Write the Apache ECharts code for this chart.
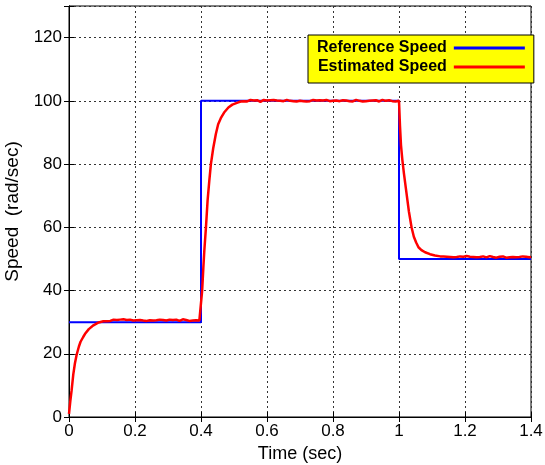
<!DOCTYPE html>
<html>
<head>
<meta charset="utf-8">
<script src="https://cdn.jsdelivr.net/npm/echarts@6/dist/echarts.min.js"></script>
<style>
html,body{margin:0;padding:0;background:#fff;}
#chart{width:545px;height:465px;}
</style>
</head>
<body>
<div id="chart"></div>
<script>
// ---- data ----
const seriesNames = ['Reference Speed', 'Estimated Speed'];
const xTicks = [0, 0.2, 0.4, 0.6, 0.8, 1, 1.2, 1.4];
const yTicks = [0, 20, 40, 60, 80, 100, 120];

const refTime  = [0, 0.4, 0.4, 1.0, 1.0, 1.4];
const refSpeed = [30, 30, 100, 100, 50, 50];

const estTime = [
  0, 0.004, 0.008, 0.013, 0.018, 0.023, 0.03, 0.035, 0.043, 0.05, 0.06, 0.074, 0.09, 0.104,
  0.11, 0.115, 0.12, 0.125, 0.13, 0.135, 0.14, 0.145, 0.15, 0.155, 0.16, 0.165, 0.17, 0.175, 0.18, 0.185,
  0.19, 0.195, 0.2, 0.205, 0.21, 0.215, 0.22, 0.225, 0.23, 0.235, 0.24, 0.245, 0.25, 0.255, 0.26, 0.265,
  0.27, 0.275, 0.28, 0.285, 0.29, 0.295, 0.3, 0.305, 0.31, 0.315, 0.32, 0.325, 0.33, 0.335, 0.34, 0.345,
  0.35, 0.355, 0.36, 0.365, 0.37, 0.375, 0.38, 0.385, 0.39, 0.395, 0.4,
  0.4035, 0.407, 0.41, 0.415, 0.42, 0.425, 0.43, 0.437, 0.445, 0.452, 0.46, 0.47, 0.483, 0.495, 0.513,
  0.52, 0.525, 0.53, 0.535, 0.54, 0.545, 0.55, 0.555, 0.56, 0.565, 0.57, 0.575, 0.58, 0.585, 0.59, 0.595,
  0.6, 0.605, 0.61, 0.615, 0.62, 0.625, 0.63, 0.635, 0.64, 0.645, 0.65, 0.655, 0.66, 0.665, 0.67, 0.675,
  0.68, 0.685, 0.69, 0.695, 0.7, 0.705, 0.71, 0.715, 0.72, 0.725, 0.73, 0.735, 0.74, 0.745, 0.75, 0.755,
  0.76, 0.765, 0.77, 0.775, 0.78, 0.785, 0.79, 0.795, 0.8, 0.805, 0.81, 0.815, 0.82, 0.825, 0.83, 0.835,
  0.84, 0.845, 0.85, 0.855, 0.86, 0.865, 0.87, 0.875, 0.88, 0.885, 0.89, 0.895, 0.9, 0.905, 0.91, 0.915,
  0.92, 0.925, 0.93, 0.935, 0.94, 0.945, 0.95, 0.955, 0.96, 0.965, 0.97, 0.975, 0.98, 0.985, 0.99, 0.995, 1.0,
  1.003, 1.006, 1.01, 1.015, 1.023, 1.03, 1.038, 1.045, 1.052, 1.059, 1.068, 1.079, 1.094, 1.109, 1.125,
  1.13, 1.135, 1.14, 1.145, 1.15, 1.155, 1.16, 1.165, 1.17, 1.175, 1.18, 1.185, 1.19, 1.195, 1.2, 1.205,
  1.21, 1.215, 1.22, 1.225, 1.23, 1.235, 1.24, 1.245, 1.25, 1.255, 1.26, 1.265, 1.27, 1.275, 1.28, 1.285,
  1.29, 1.295, 1.3, 1.305, 1.31, 1.315, 1.32, 1.325, 1.33, 1.335, 1.34, 1.345, 1.35, 1.355, 1.36, 1.365,
  1.37, 1.375, 1.38, 1.385, 1.39, 1.395, 1.4
];
const estSpeed = [
  1, 5, 8.5, 13.5, 17, 19.6, 22.3, 23.8, 25.3, 26.5, 27.8, 29, 29.9, 30.3,
  30.5, 30.3, 30.7, 30.4, 30.6, 30.8, 30.5, 30.7, 30.4, 30.8, 30.6, 30.9, 30.5, 30.7, 30.4, 30.8,
  30.6, 30.5, 30.9, 30.6, 30.4, 30.7, 30.8, 30.5, 30.7, 30.4, 30.8, 30.6, 30.9, 30.5, 30.7, 30.6,
  30.4, 30.8, 30.5, 30.7, 30.9, 30.5, 30.6, 30.8, 30.4, 30.7, 30.5, 30.8, 30.6, 30.4, 30.7, 30.9,
  30.5, 30.7, 30.6, 30.4, 30.8, 30.5, 30.7, 30.6, 30.8, 30.5, 30.7,
  40, 47, 52.5, 60, 68.5, 74.5, 80, 85, 89.5, 92.6, 94.5, 96.3, 97.9, 98.8, 99.5,
  99.8, 100.1, 99.9, 100.2, 99.8, 100.0, 100.3, 99.9, 100.1, 99.8, 100.2, 100.0, 99.7, 100.1, 100.3, 99.9,
  100.1, 99.8, 100.2, 100.0, 100.3, 99.9, 100.1, 99.8, 100.0, 100.2, 99.9, 100.1, 100.3, 99.8, 100.0, 100.2,
  99.9, 100.1, 99.8, 100.2, 100.0, 100.3, 99.9, 100.1, 99.8, 100.2, 99.9, 100.0, 100.3, 99.8, 100.1, 100.0,
  100.2, 99.9, 100.1, 99.8, 100.3, 100.0, 99.9, 100.2, 100.0, 99.8, 100.1, 100.3, 99.9, 100.0, 100.2, 99.8,
  100.1, 100.0, 99.9, 100.2, 99.8, 100.1, 100.3, 99.9, 100.0, 100.2, 99.8, 100.1, 99.9, 100.2, 100.0, 99.8,
  100.1, 99.9, 100.2, 100.0, 99.8, 100.1, 100.3, 99.9, 100.0, 99.8, 100.2, 100.0, 99.9, 100.1, 99.8, 100.0, 100.0,
  92, 86, 81.5, 77, 70.6, 65, 60, 57, 55.2, 53.7, 52.8, 52.1, 51.5, 51.1, 50.8,
  50.6, 50.8, 50.5, 50.7, 50.4, 50.6, 50.8, 50.5, 50.7, 50.6, 50.4, 50.8, 50.5, 50.7, 50.6, 50.9,
  50.5, 50.7, 50.4, 50.6, 50.8, 50.5, 50.7, 50.6, 50.4, 50.8, 50.6, 50.5, 50.7, 50.9, 50.5, 50.6,
  50.8, 50.4, 50.6, 50.7, 50.5, 50.8, 50.6, 50.4, 50.7, 50.5, 50.8, 50.6, 50.9, 50.5, 50.7, 50.6,
  50.4, 50.8, 50.5, 50.7, 50.6, 50.5, 50.7
];

const refData = refTime.map((t, i) => [t, refSpeed[i]]);
const estData = estTime.map((t, i) => [t, estSpeed[i]]);

const FONT = '"Liberation Sans", Arial, sans-serif';
const fmtX = v => String(Number(v.toFixed(2)));

const chart = echarts.init(document.getElementById('chart'), null, {renderer: 'canvas'});
const gridLine = {show: true, lineStyle: {color: '#333', type: [2, 3], width: 1}};
const tickIn = {show: true, inside: true, length: 5, lineStyle: {color: '#000'}};

chart.setOption({
  animation: false,
  backgroundColor: '#fff',
  grid: {left: 69, right: 14, top: 6, bottom: 48, containLabel: false, outerBoundsMode: 'none',
    show: true, borderColor: '#000', borderWidth: 1, backgroundColor: 'transparent'},
  legend: {
    data: seriesNames,
    orient: 'vertical',
    left: 308, top: 35,
    align: 'right',
    icon: 'rect',
    itemWidth: 71, itemHeight: 3,
    itemGap: 1,
    padding: [4, 9, 7, 9],
    backgroundColor: '#ffff00',
    borderColor: '#000', borderWidth: 1, borderRadius: 0,
    textStyle: {fontFamily: FONT, fontSize: 16, fontWeight: 'bold', color: '#000', lineHeight: 18, padding: [0, 2, 0, 0]}
  },
  xAxis: [{
    type: 'value', min: 0, max: 1.4, interval: 0.2,
    name: 'Time (sec)', nameLocation: 'middle', nameGap: 23,
    nameTextStyle: {fontFamily: FONT, fontSize: 18, color: '#000'},
    axisLine: {show: true, lineStyle: {color: '#000'}},
    axisTick: tickIn,
    axisLabel: {fontFamily: FONT, fontSize: 17, color: '#000', margin: 6, formatter: fmtX},
    splitLine: gridLine
  }, {
    type: 'value', min: 0, max: 1.4, interval: 0.2, position: 'top',
    axisLine: {show: true, lineStyle: {color: '#000'}},
    axisTick: tickIn, axisLabel: {show: false}, splitLine: {show: false}
  }],
  yAxis: [{
    type: 'value', min: 0, max: 130, interval: 20,
    name: 'Speed  (rad/sec)', nameLocation: 'middle', nameGap: 45,
    nameTextStyle: {fontFamily: FONT, fontSize: 19, color: '#000'},
    axisLine: {show: true, lineStyle: {color: '#000'}},
    axisTick: tickIn,
    axisLabel: {fontFamily: FONT, fontSize: 17, color: '#000', margin: 7,
      formatter: v => (yTicks.indexOf(v) >= 0 ? String(v) : '')},
    splitLine: gridLine
  }, {
    type: 'value', min: 0, max: 130, interval: 20, position: 'right',
    axisLine: {show: true, lineStyle: {color: '#000'}},
    axisTick: tickIn, axisLabel: {show: false}, splitLine: {show: false}
  }],
  series: [{
    name: seriesNames[0], type: 'line', data: refData,
    showSymbol: false, symbol: 'none',
    lineStyle: {color: '#0000ff', width: 2},
    itemStyle: {color: '#0000ff'}
  }, {
    name: seriesNames[1], type: 'line', data: estData,
    showSymbol: false, symbol: 'none',
    lineStyle: {color: '#ff0000', width: 2.5},
    itemStyle: {color: '#ff0000'}
  }]
});
</script>
</body>
</html>
